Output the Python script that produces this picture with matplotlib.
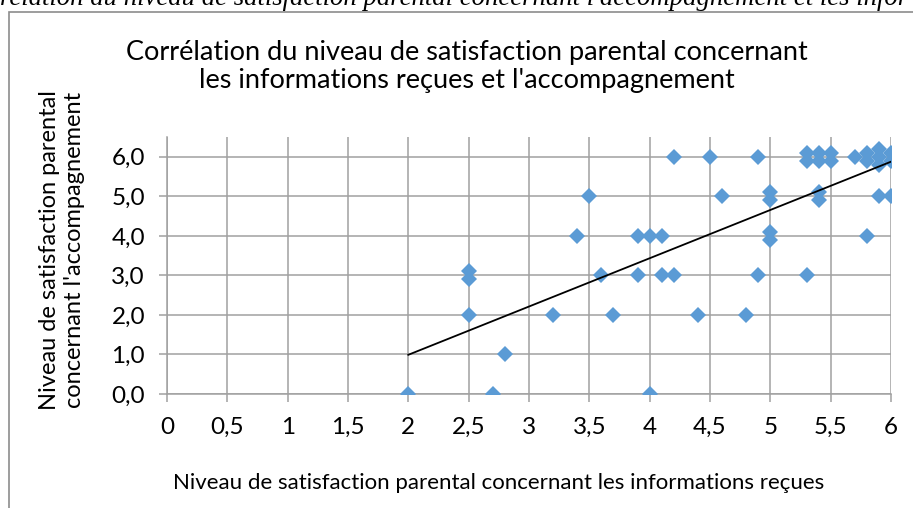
import numpy as np
import matplotlib.pyplot as plt
from matplotlib.patches import Rectangle

# niveau de satisfaction : informations reçues (x) / accompagnement (y)
info = [2, 2.5, 2.5, 2.5, 2.7, 2.8, 3.2, 3.4, 3.5, 3.6, 3.7, 3.9, 3.9, 4, 4,
        4.1, 4.1, 4.2, 4.2, 4.4, 4.5, 4.6, 4.8, 4.9, 4.9, 5, 5, 5, 5,
        5.3, 5.3, 5.3, 5.4, 5.4, 5.4, 5.4, 5.5, 5.5, 5.7, 5.8, 5.8, 5.8,
        5.9, 5.9, 5.9, 5.9, 6, 6, 6]
accomp = [0, 3.1, 2.9, 2, 0, 1, 2, 4, 5, 3, 2, 4, 3, 4, 0,
          4, 3, 6, 3, 2, 6, 5, 2, 6, 3, 5.1, 4.9, 4.1, 3.9,
          6.1, 5.9, 3, 6.1, 5.9, 5.1, 4.9, 6.1, 5.9, 6, 6.1, 5.9, 4,
          6.2, 6.0, 5.8, 5, 6.1, 5.9, 5]
xticks = [0, 0.5, 1, 1.5, 2, 2.5, 3, 3.5, 4, 4.5, 5, 5.5, 6]
xlabels = ["0", "0,5", "1", "1,5", "2", "2,5", "3", "3,5", "4", "4,5", "5", "5,5", "6"]
yticks = [0, 1, 2, 3, 4, 5, 6]
ylabels = ["0,0", "1,0", "2,0", "3,0", "4,0", "5,0", "6,0"]

plt.rcParams['font.family'] = ['Lato', 'DejaVu Sans']
grey = "#a0a0a0"

fig = plt.figure(figsize=(9.13, 5.08), dpi=100)
ax = fig.add_axes([0.1829, 0.2244, 0.7930, 0.5059])

x = np.array(info)
y = np.array(accomp)
ax.plot(x, y, "D", color="#5b9bd5", ms=8, mew=0, zorder=3)

# courbe de tendance linéaire
s, b = np.polyfit(x, y, 1)
xt = np.array([x.min(), x.max()])
ax.plot(xt, s * xt + b, color="black", lw=1.3, zorder=4)

ax.set_xlim(0, 6)
ax.set_ylim(0, 6.5)
ax.set_xticks(xticks)
ax.set_xticklabels(xlabels)
ax.set_yticks(yticks)
ax.set_yticklabels(ylabels)
ax.grid(True, color=grey, lw=1.1, zorder=0)
ax.set_axisbelow(True)
for side in ["top", "right"]:
    ax.spines[side].set_visible(False)
for side in ["left", "bottom"]:
    ax.spines[side].set_color(grey)
    ax.spines[side].set_linewidth(1.1)
ax.tick_params(axis="both", length=5.8, width=1.1, color=grey, labelsize=17.5)
ax.tick_params(axis="y", pad=10)
ax.tick_params(axis="x", pad=11)

fig.text(467 / 913, 1 - 60 / 508, "Corrélation du niveau de satisfaction parental concernant",
         ha="center", va="baseline", fontsize=19.5)
fig.text(467 / 913, 1 - 88 / 508, "les informations reçues et l'accompagnement",
         ha="center", va="baseline", fontsize=19.5)
fig.text(499 / 913, 1 - 483 / 508, "Niveau de satisfaction parental concernant les informations reçues",
         ha="center", va="center", fontsize=16)
fig.text(62 / 913, 1 - 250 / 508, "Niveau de satisfaction parental\nconcernant l'accompagnement",
         ha="center", va="center", rotation=90, fontsize=17, linespacing=1.2)

# bord du graphique et légende coupée au-dessus
fig.add_artist(Rectangle((9 / 913, -0.1), 1.2, 1.1 - 12 / 508, transform=fig.transFigure,
                         fill=False, edgecolor="#8c8c8c", lw=1.2))
fig.text(0, 1 - 5 / 508,
         "relation du niveau de satisfaction parental concernant l'accompagnement et les infor",
         ha="left", va="baseline", fontsize=19.3, fontstyle="italic",
         family=["Liberation Serif", "DejaVu Serif"])

fig.savefig("out.png", dpi=100)
